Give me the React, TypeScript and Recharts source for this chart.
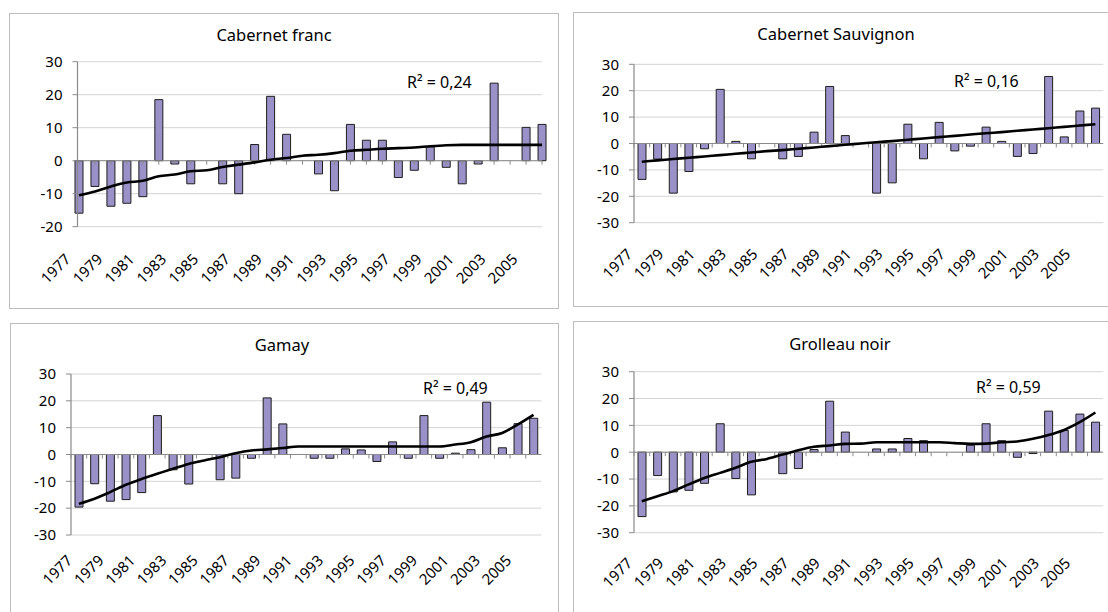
import React from 'react';
import { ComposedChart, Bar, Line, XAxis, YAxis, CartesianGrid, ReferenceLine } from 'recharts';

const years = ['1977','1978','1979','1980','1981','1982','1983','1984','1985','1986','1987','1988','1989','1990','1991','1992','1993','1994','1995','1996','1997','1998','1999','2000','2001','2002','2003','2004','2005','2006'];

const yTicksFranc = [-20, -10, 0, 10, 20, 30];
const yTicksOther = [-30, -20, -10, 0, 10, 20, 30];

const cabFrancValues = [-15.9, -7.8, -13.8, -12.9, -10.9, 18.5, -1.0, -7.0, null, -7.0, -10.0, 4.9, 19.5, 8.0, null, -4.0, -9.1, 11.0, 6.2, 6.2, -5.1, -2.9, 4.2, -2.0, -7.0, -1.0, 23.5, null, 10.1, 11.0];
const cabFrancTrend = [-10.5, -9.3, -7.8, -6.6, -6.1, -4.7, -4.2, -3.2, -2.9, -1.9, -1.2, -0.5, 0.3, 0.8, 1.5, 1.8, 2.3, 3.0, 3.3, 3.6, 3.8, 4.0, 4.4, 4.7, 4.8, 4.8, 4.8, 4.8, 4.8, 4.8];

const cabSauvValues = [-13.6, -5.9, -18.8, -10.6, -2.0, 20.5, 0.8, -5.8, null, -5.8, -4.9, 4.3, 21.6, 3.0, null, -18.8, -14.9, 7.3, -5.8, 8.0, -2.8, -1.0, 6.2, 0.8, -4.9, -3.8, 25.4, 2.5, 12.3, 13.4];
const cabSauvTrend = [-6.9, -6.4, -5.9, -5.4, -4.9, -4.4, -3.9, -3.4, -2.9, -2.5, -2.0, -1.5, -1.0, -0.5, 0.0, 0.5, 0.9, 1.4, 1.9, 2.4, 2.9, 3.4, 3.9, 4.3, 4.8, 5.3, 5.8, 6.3, 6.8, 7.3];

const gamayValues = [-19.6, -10.9, -17.4, -16.8, -14.2, 14.5, -5.7, -11.0, null, -9.4, -8.8, -1.4, 21.1, 11.4, null, -1.4, -1.4, 2.1, 1.7, -2.6, 4.7, -1.4, 14.5, -1.4, 0.5, 1.8, 19.5, 2.5, 11.5, 13.5];
const gamayTrend = [-18.4, -16.5, -14.0, -11.3, -9.1, -7.2, -5.3, -3.5, -2.2, -1.0, 0.5, 1.5, 1.9, 2.4, 3.0, 3.0, 3.0, 3.0, 3.0, 3.0, 3.0, 3.0, 3.0, 3.0, 3.7, 4.6, 6.7, 8.0, 11.2, 14.8];

const grolleauValues = [-24.0, -8.7, -14.8, -14.2, -11.6, 10.6, -9.8, -15.9, null, -8.0, -6.1, 1.0, 19.0, 7.5, null, 1.2, 1.2, 5.1, 4.3, null, null, 2.6, 10.6, 4.3, -1.9, -0.5, 15.3, 8.1, 14.2, 11.2];
const grolleauTrend = [-18.3, -16.4, -14.5, -12.0, -9.6, -7.7, -5.8, -3.6, -2.5, -0.9, 0.7, 2.0, 2.5, 3.1, 3.2, 3.7, 3.7, 3.7, 3.7, 3.7, 3.4, 3.1, 3.2, 3.7, 4.0, 5.0, 6.4, 8.3, 11.2, 14.8];

const titles = ['Cabernet franc', 'Cabernet Sauvignon', 'Gamay', 'Grolleau noir'];
const r2Labels = ['R² = 0,24', 'R² = 0,16', 'R² = 0,49', 'R² = 0,59'];

const FONT = '"Noto Sans", "Open Sans", sans-serif';
const BAR_FILL = '#9a91c8';
const BAR_STROKE = '#1e1e1e';
const AXIS = '#8a8a8a';
const GRID = '#d4d4d4';

type Panel = {
  values: (number | null)[];
  trend: number[];
  ticks: number[];
  box: { l: number; t: number; w: number; h: number };
  chart: { l: number; t: number; w: number; h: number };
  margin: { top: number; right: number; bottom: number; left: number };
  yWidth: number;
  padding: { left: number; right: number };
  labelDx: number;
  labelMargin: number;
  zeroTick: number;
  zeroTickPos: 'start' | 'middle';
  title: { x: number; y: number };
  r2: { x: number; y: number };
};

const panels: Panel[] = [
  {
    values: cabFrancValues, trend: cabFrancTrend, ticks: yTicksFranc,
    box: { l: 9, t: 13, w: 550, h: 296 },
    chart: { l: 9, t: 13, w: 549, h: 296 },
    margin: { top: 48.7, right: 16, bottom: 12.3, left: 8.5 },
    yWidth: 60, padding: { left: -6.5, right: -8 },
    labelDx: -15, labelMargin: 26,
    zeroTick: 1.2, zeroTickPos: 'middle',
    title: { x: 274, y: 41 }, r2: { x: 407, y: 88 },
  },
  {
    values: cabSauvValues, trend: cabSauvTrend, ticks: yTicksOther,
    box: { l: 573, t: 12, w: 560, h: 295 },
    chart: { l: 573, t: 12, w: 535, h: 295 },
    margin: { top: 52.3, right: 4.8, bottom: 14.3, left: 6 },
    yWidth: 55, padding: { left: 0, right: 0 },
    labelDx: -16, labelMargin: 25,
    zeroTick: 1.5, zeroTickPos: 'start',
    title: { x: 836, y: 40 }, r2: { x: 954, y: 86.5 },
  },
  {
    values: gamayValues, trend: gamayTrend, ticks: yTicksOther,
    box: { l: 10, t: 323, w: 549, h: 320 },
    chart: { l: 10, t: 323, w: 548, h: 289 },
    margin: { top: 51, right: 16.6, bottom: 7, left: 6 },
    yWidth: 55, padding: { left: 0, right: 0 },
    labelDx: -13, labelMargin: 19,
    zeroTick: 1.5, zeroTickPos: 'start',
    title: { x: 282, y: 351 }, r2: { x: 423, y: 394 },
  },
  {
    values: grolleauValues, trend: grolleauTrend, ticks: yTicksOther,
    box: { l: 573, t: 321, w: 560, h: 320 },
    chart: { l: 573, t: 321, w: 535, h: 291 },
    margin: { top: 50.7, right: 4.8, bottom: 9.3, left: 6 },
    yWidth: 55, padding: { left: 0, right: 0 },
    labelDx: -16, labelMargin: 24,
    zeroTick: 1.5, zeroTickPos: 'start',
    title: { x: 840, y: 350 }, r2: { x: 976, y: 392.5 },
  },
];

const makeTick = (dx: number) => (props: any) => {
  const { x, y, payload } = props;
  return (
    <text
      x={0}
      y={0}
      transform={`translate(${x + dx},${y}) rotate(-45)`}
      textAnchor="end"
      dy="0.71em"
      fontSize={15}
      fontFamily={FONT}
      fill="#000"
    >
      {payload.value}
    </text>
  );
};

function PanelChart({ p }: { p: Panel }) {
  const data = years.map((year, i) => ({ year, v: p.values[i], t: p.trend[i] }));
  const min = p.ticks[0];
  const max = p.ticks[p.ticks.length - 1];
  return (
    <div style={{ position: 'absolute', left: p.chart.l, top: p.chart.t, width: p.chart.w, height: p.chart.h }}>
      <ComposedChart width={p.chart.w} height={p.chart.h} data={data} margin={p.margin}>
        <CartesianGrid horizontal vertical={false} stroke={GRID} strokeWidth={1} />
        <XAxis
          dataKey="year"
          interval={1}
          axisLine={false}
          tickLine={false}
          tickSize={0}
          tickMargin={p.labelMargin}
          height={70}
          padding={p.padding}
          tick={makeTick(p.labelDx)}
        />
        <YAxis
          domain={[min, max]}
          ticks={p.ticks}
          interval={0}
          width={p.yWidth}
          axisLine={{ stroke: AXIS, strokeWidth: 1.2 }}
          tickLine={{ stroke: AXIS }}
          tickSize={5}
          tickMargin={10}
          tick={{ fontSize: 15, fill: '#000', fontFamily: FONT }}
        />
        <ReferenceLine y={0} stroke={AXIS} strokeWidth={1} />
        {years.map((yr) => (
          <ReferenceLine
            key={'zt' + yr}
            segment={[{ x: yr, y: 0 }, { x: yr, y: -p.zeroTick }]}
            position={p.zeroTickPos}
            stroke={AXIS}
            strokeWidth={1}
          />
        ))}
        <Bar dataKey="v" fill={BAR_FILL} stroke={BAR_STROKE} strokeWidth={1} barSize={8} isAnimationActive={false} />
        <Line dataKey="t" type="monotone" stroke="#000" strokeWidth={2.6} dot={false} isAnimationActive={false} />
      </ComposedChart>
    </div>
  );
}

export default function App() {
  return (
    <div style={{ position: 'absolute', left: 0, top: 0, width: 1108, height: 612, overflow: 'hidden', background: '#fff' }}>
      {panels.map((p, i) => (
        <div
          key={'b' + i}
          style={{
            position: 'absolute', left: p.box.l, top: p.box.t, width: p.box.w, height: p.box.h,
            border: '1px solid #bdbdbd', boxSizing: 'border-box',
          }}
        />
      ))}
      {panels.map((p, i) => (
        <PanelChart key={'c' + i} p={p} />
      ))}
      <svg width={1108} height={612} style={{ position: 'absolute', left: 0, top: 0, pointerEvents: 'none' }}>
        {panels.map((p, i) => (
          <g key={'t' + i}>
            <text x={p.title.x} y={p.title.y} textAnchor="middle" fontSize={16.5} fontFamily={FONT} fill="#000">
              {titles[i]}
            </text>
            <text x={p.r2.x} y={p.r2.y} textAnchor="start" fontSize={16} fontFamily={FONT} fill="#000">
              {r2Labels[i]}
            </text>
          </g>
        ))}
      </svg>
    </div>
  );
}
